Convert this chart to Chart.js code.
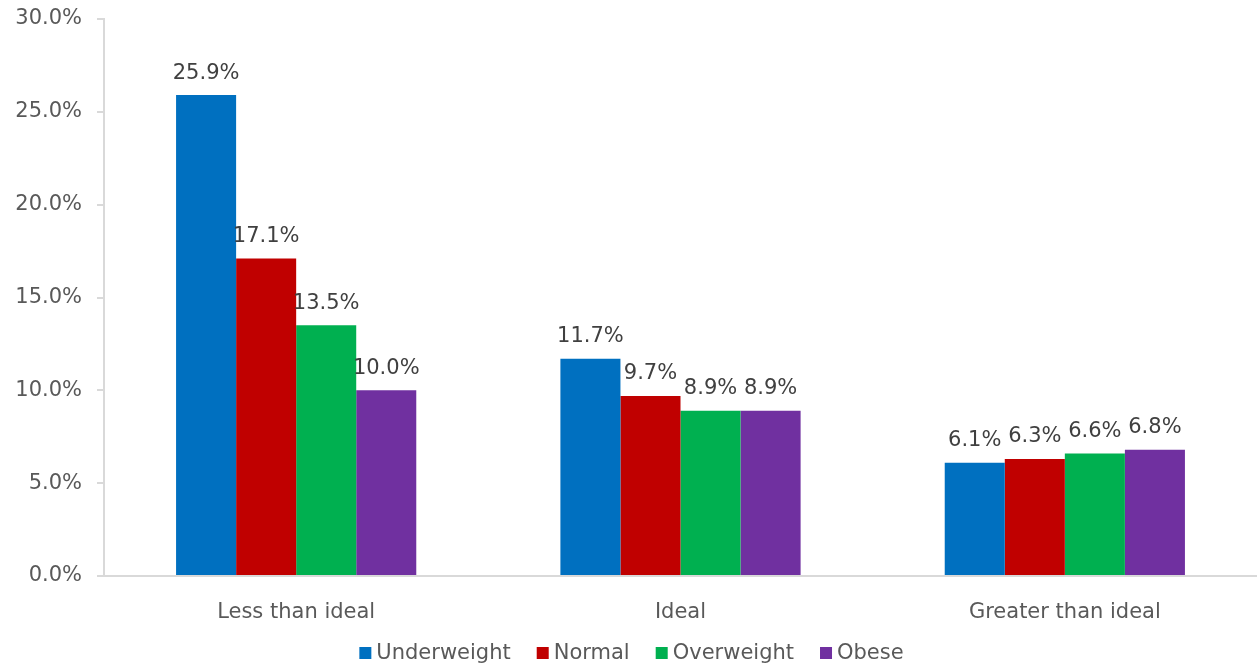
<!DOCTYPE html>
<html>
<head>
<meta charset="utf-8">
<script src="https://cdn.jsdelivr.net/npm/chart.js@4/dist/chart.umd.min.js"></script>
<style>
  html, body { margin: 0; padding: 0; background: #fff; }
  #wrap { width: 1257px; height: 667px; }
</style>
</head>
<body>
<div id="wrap"><canvas id="chart"></canvas></div>
<script>
// categories + series (percent)
const categories = ['Less than ideal', 'Ideal', 'Greater than ideal'];
const underweight = [25.9, 11.7, 6.1];
const normal      = [17.1, 9.7, 6.3];
const overweight  = [13.5, 8.9, 6.6];
const obese       = [10.0, 8.9, 6.8];

const seriesNames  = ['Underweight', 'Normal', 'Overweight', 'Obese'];
const seriesColors = ['#0070C0', '#C00000', '#00B050', '#7030A0'];
const seriesValues = [underweight, normal, overweight, obese];

const FONT = "'DejaVu Sans', Verdana, sans-serif";
const FSIZE = 21;

// value labels above each bar
const barLabels = {
  id: 'barLabels',
  afterDatasetsDraw(chart) {
    const ctx = chart.ctx;
    ctx.save();
    ctx.font = FSIZE + 'px ' + FONT;
    ctx.fillStyle = '#404040';
    ctx.textAlign = 'center';
    ctx.textBaseline = 'middle';
    chart.data.datasets.forEach((ds, i) => {
      chart.getDatasetMeta(i).data.forEach((bar, j) => {
        ctx.fillText(ds.data[j].toFixed(1) + '%', bar.x, bar.y - 22);
      });
    });
    ctx.restore();
  }
};

// compact legend under the axis: small square, short gap, then the name
const bottomLegend = {
  id: 'bottomLegend',
  afterDraw(chart) {
    const ctx = chart.ctx;
    const box = 12, gap = 5, spacing = 26;
    ctx.save();
    ctx.font = FSIZE + 'px ' + FONT;
    const items = chart.data.datasets.map(ds => ({
      text: ds.label, color: ds.backgroundColor, w: ctx.measureText(ds.label).width
    }));
    const total = items.reduce((s, it) => s + box + gap + it.w, 0) + spacing * (items.length - 1);
    let x = (chart.width - total) / 2 + 3;
    const y = 654;
    ctx.textBaseline = 'middle';
    ctx.textAlign = 'left';
    items.forEach(it => {
      ctx.fillStyle = it.color;
      ctx.fillRect(x, y - box / 2 - 1, box, box);
      x += box + gap;
      ctx.fillStyle = '#595959';
      ctx.fillText(it.text, x, y);
      x += it.w + spacing;
    });
    ctx.restore();
  }
};

new Chart(document.getElementById('chart'), {
  type: 'bar',
  data: {
    labels: categories,
    datasets: seriesNames.map((name, i) => ({
      label: name,
      data: seriesValues[i],
      backgroundColor: seriesColors[i],
      borderWidth: 0,
      barPercentage: 1.0,
      categoryPercentage: 0.625
    }))
  },
  options: {
    responsive: true,
    maintainAspectRatio: false,
    animation: false,
    layout: { padding: { top: 19, right: 0, left: 0, bottom: 41 } },
    plugins: {
      tooltip: { enabled: false },
      legend: { display: false }
    },
    scales: {
      x: {
        grid: { display: false },
        border: { color: '#D9D9D9', width: 2 },
        ticks: { font: { family: FONT, size: FSIZE }, color: '#595959', padding: 16 },
        afterFit: s => { s.height = 50; }
      },
      y: {
        min: 0,
        max: 30,
        grid: { drawOnChartArea: false, drawTicks: true, tickLength: 7, color: '#D9D9D9', lineWidth: 2 },
        border: { color: '#D9D9D9', width: 2 },
        ticks: {
          stepSize: 5,
          font: { family: FONT, size: FSIZE },
          color: '#595959',
          padding: 15,
          callback: v => v.toFixed(1) + '%'
        },
        afterFit: s => { s.width = 104; s.paddingTop = 0; s.paddingBottom = 0; }
      }
    }
  },
  plugins: [barLabels, bottomLegend]
});
</script>
</body>
</html>
